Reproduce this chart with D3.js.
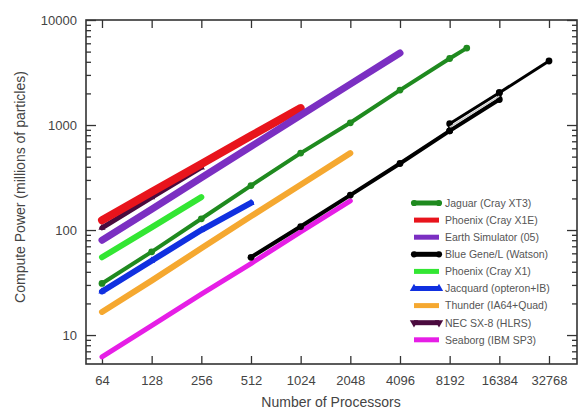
<!DOCTYPE html>
<html><head><meta charset="utf-8">
<script src="https://cdn.jsdelivr.net/npm/d3@7"></script>
<style>body{margin:0;background:#fff}svg{display:block}text{font-family:"Liberation Sans",Arial,sans-serif}</style>
</head><body><svg id="c" width="581" height="411"></svg>
<script>
// ---- data ----
const xTicks = [64,128,256,512,1024,2048,4096,8192,16384,32768];
const yTicks = [10,100,1000,10000];

const jaguarProcs = [64,128,256,512,1024,2048,4096,8192,10400];
const jaguarPower = [31,62,128,265,540,1050,2150,4300,5400];
const phoenixX1EProcs = [64,128,256,512,1024];
const phoenixX1EPower = [124,230,425,790,1450];
const earthSimProcs = [64,128,256,512,1024,2048,4096];
const earthSimPower = [80,158,315,625,1240,2450,4850];
const blueGeneProcs = [512,1024,2048,4096,8192,16384,16384];
const blueGenePower = [55,108,215,430,880,1750,2030];
const blueGeneAltProcs = [8192,8192,16384,32768];
const blueGeneAltPower = [880,1030,2030,4070];
const phoenixX1Procs = [64,128,256];
const phoenixX1Power = [55,106,206];
const jacquardProcs = [64,128,256,512];
const jacquardPower = [26,51,100,181];
const thunderProcs = [64,128,256,512,1024,2048];
const thunderPower = [16.6,33,67,135,270,540];
const necProcs = [64,128,256];
const necPower = [105,205,395];
const seaborgProcs = [64,128,256,512,1024,2048];
const seaborgPower = [6.2,12.3,24.5,48,96,190];

const seriesNames = ["Jaguar (Cray XT3)","Phoenix (Cray X1E)","Earth Simulator (05)","Blue Gene/L (Watson)","Phoenix (Cray X1)","Jacquard (opteron+IB)","Thunder (IA64+Quad)","NEC SX-8 (HLRS)","Seaborg (IBM SP3)"];

// ---- styling ----
const series = [
  {name:seriesNames[0], color:"#1f8a1f", w:4, sym:"circle", runs:[[jaguarProcs,jaguarPower]], z:5},
  {name:seriesNames[1], color:"#e8141c", w:8, sym:null, runs:[[phoenixX1EProcs,phoenixX1EPower]], z:2},
  {name:seriesNames[2], color:"#7b2fc2", w:7, sym:null, runs:[[earthSimProcs,earthSimPower]], z:3},
  {name:seriesNames[3], color:"#000000", w:4, sym:"circle", runs:[[blueGeneProcs,blueGenePower],[blueGeneAltProcs,blueGeneAltPower]], z:6},
  {name:seriesNames[4], color:"#33e633", w:6, sym:null, runs:[[phoenixX1Procs,phoenixX1Power]], z:4},
  {name:seriesNames[5], color:"#1030e0", w:6, sym:"triangle", runs:[[jacquardProcs,jacquardPower]], z:4},
  {name:seriesNames[6], color:"#f5a830", w:6, sym:null, runs:[[thunderProcs,thunderPower]], z:4},
  {name:seriesNames[7], color:"#4a0a3e", w:5, sym:"triangle", runs:[[necProcs,necPower]], z:1},
  {name:seriesNames[8], color:"#e61ee6", w:5, sym:null, runs:[[seaborgProcs,seaborgPower]], z:4}
];

const svg = d3.select("#c");
const L=86,R=577,T=20,B=364;
const x = d3.scaleLog().base(2).domain([51.2,48440]).range([L,R]);
const y = d3.scaleLog().domain([5.3,10000]).range([B,T]);

// frame
svg.append("rect").attr("x",L).attr("y",T).attr("width",R-L).attr("height",B-T)
  .attr("fill","none").attr("stroke","#333").attr("stroke-width",1.6);

// axes
const minorY = [];
[1,10,100,1000].forEach(d=>{for(let k=2;k<=9;k++){const v=d*k; if(v>=5.3&&v<10000) minorY.push(v);}});
const gTickStyle = g=>{g.select(".domain").remove(); g.selectAll("line").attr("stroke","#333").attr("stroke-width",1.3);};

svg.append("g").attr("transform",`translate(0,${B})`)
  .call(d3.axisBottom(x).tickValues(xTicks).tickFormat(d3.format("d")).tickSize(-8).tickPadding(12))
  .call(gTickStyle)
  .call(g=>g.selectAll("text").attr("fill","#444").attr("font-size",13));
svg.append("g").attr("transform",`translate(0,${T})`)
  .call(d3.axisTop(x).tickValues(xTicks).tickFormat("").tickSize(-8)).call(gTickStyle);
svg.append("g").attr("transform",`translate(${L},0)`)
  .call(d3.axisLeft(y).tickValues(yTicks).tickFormat(d3.format("d")).tickSize(-10).tickPadding(9))
  .call(gTickStyle)
  .call(g=>g.selectAll("text").attr("fill","#444").attr("font-size",13));
svg.append("g").attr("transform",`translate(${L},0)`)
  .call(d3.axisLeft(y).tickValues(minorY).tickFormat("").tickSize(-5)).call(gTickStyle);
svg.append("g").attr("transform",`translate(${R},0)`)
  .call(d3.axisRight(y).tickValues(yTicks).tickFormat("").tickSize(-10)).call(gTickStyle);
svg.append("g").attr("transform",`translate(${R},0)`)
  .call(d3.axisRight(y).tickValues(minorY).tickFormat("").tickSize(-5)).call(gTickStyle);

// titles
svg.append("text").attr("x",331).attr("y",407).attr("text-anchor","middle")
  .attr("font-size",14).attr("fill","#444").text("Number of Processors");
svg.append("text").attr("transform","translate(25,187) rotate(-90)").attr("text-anchor","middle")
  .attr("font-size",14).attr("fill","#444").text("Compute Power (millions of particles)");

// lines
const line = d3.line().x(d=>x(d[0])).y(d=>y(d[1]));
const plot = svg.append("g");
series.slice().sort((a,b)=>a.z-b.z).forEach(s=>{
  s.runs.forEach((run,ri)=>{
    const pts = run[0].map((p,i)=>[p,run[1][i]]);
    plot.append("path").datum(pts).attr("d",line).attr("fill","none")
      .attr("stroke",s.color).attr("stroke-width", s.color==="#000000"&&ri===1?3:s.w)
      .attr("stroke-linecap","round").attr("stroke-linejoin","round");
    if(s.sym){
      const sym = d3.symbol().type(s.sym==="circle"?d3.symbolCircle:d3.symbolTriangle).size(s.sym==="circle"?36:22);
      plot.selectAll(null).data(pts).enter().append("path")
        .attr("transform",d=>`translate(${x(d[0])},${y(d[1])})`)
        .attr("d",sym).attr("fill",s.color);
    }
  });
});
// inner gap of Blue Gene loop
const bgInner = [[8192,955],[16384,1880]];
plot.append("path").datum(bgInner).attr("d",line).attr("stroke","#ccc").attr("stroke-width",1.5).attr("fill","none");

// legend
const lg = svg.append("g");
series.forEach((s,i)=>{
  const yy = 203 + i*17.1;
  lg.append("line").attr("x1",414).attr("x2",439).attr("y1",yy).attr("y2",yy)
    .attr("stroke",s.color).attr("stroke-width",5);
  if(s.sym){
    const sym = d3.symbol().type(s.sym==="circle"?d3.symbolCircle:d3.symbolTriangle).size(30);
    [414,439].forEach(xx=>lg.append("path").attr("transform",`translate(${xx},${yy})`+(s.name.startsWith("NEC")?" rotate(180)":"")).attr("d",sym).attr("fill",s.color));
  }
  lg.append("text").attr("x",445).attr("y",yy+3.8).attr("font-size",10.5).attr("fill","#555").text(s.name);
});
</script></body></html>
